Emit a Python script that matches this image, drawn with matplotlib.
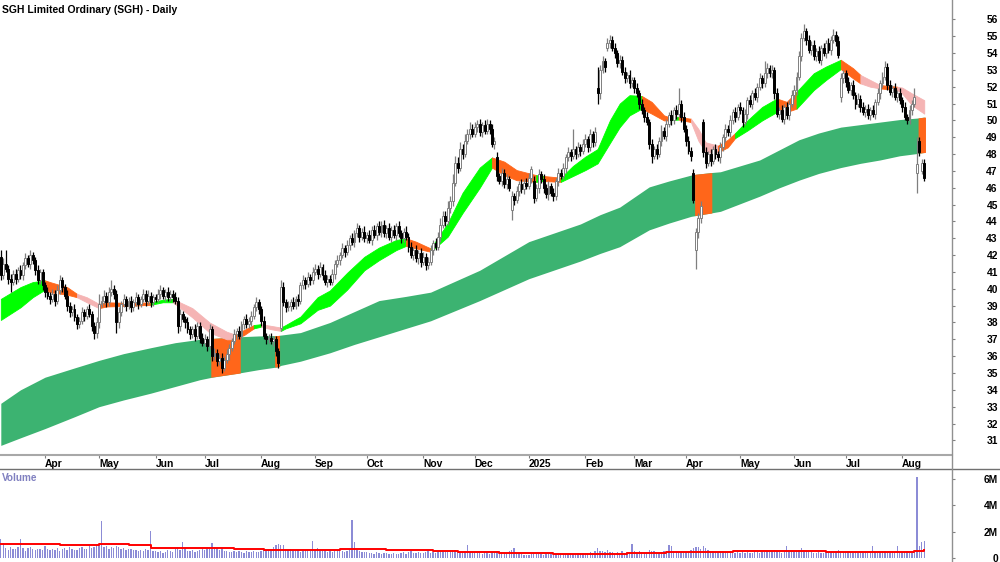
import matplotlib
matplotlib.use("Agg")
import matplotlib.pyplot as plt
from matplotlib.lines import Line2D
import numpy as np
import pandas as pd

plt.rcParams["font.family"] = ["Liberation Sans", "DejaVu Sans"]
plt.rcParams["font.weight"] = "bold"

# trading days on the chart
dates = pd.bdate_range("2024-03-06", "2025-08-14")

# daily closes, one line per month
closes = [
    40.8, 41.5, 41.2, 40.6, 40.4, 40.9, 40.6, 41.1, 40.8, 41.4, 41.8, 41.5, 42.0, 41.7, 41.1, 40.5, 41.0, 40.2,
    39.8, 39.6, 39.4, 39.7, 39.3, 39.9, 40.5, 40.1, 39.6, 39.0, 38.6, 38.8, 38.3, 37.9, 38.1, 38.6, 38.4, 38.8, 38.5, 37.8, 37.4, 38.0,
    39.1, 39.3, 39.6, 39.2, 39.8, 40.0, 39.7, 38.0, 38.6, 39.1, 39.4, 39.0, 39.3, 38.9, 39.2, 39.5, 39.1, 39.4, 39.7, 39.3, 39.6, 39.2, 39.5,
    39.4, 39.7, 39.9, 39.6, 39.8, 39.5, 39.7, 39.5, 39.3, 37.8, 38.5, 38.2, 38.0, 37.6, 37.3, 37.6, 37.2, 37.8, 37.1, 36.8,
    37.0, 36.6, 37.6, 36.0, 36.2, 35.7, 35.9, 35.3, 35.8, 36.1, 36.5, 36.9, 37.3, 37.5, 37.2, 37.9, 38.2, 37.9, 38.1, 38.4, 38.9, 39.2, 38.8,
    38.1, 37.2, 37.0, 37.1, 36.9, 37.0, 36.3, 35.6, 40.1, 39.2, 38.9, 39.0, 39.2, 39.0, 39.4, 39.3, 40.2, 40.5, 40.3, 40.7, 40.5, 41.0,
    41.2, 40.9, 41.3, 40.8, 40.4, 40.6, 40.4, 40.9, 41.5, 41.7, 42.0, 42.4, 42.2, 42.6, 43.0, 42.8, 43.3, 43.6, 43.1, 43.4, 43.0,
    43.2, 42.9, 43.5, 43.2, 43.7, 43.4, 43.8, 43.3, 43.6, 43.1, 43.5, 43.2, 43.7, 43.3, 43.0, 43.4, 43.1, 42.5, 42.0, 42.3, 41.8, 42.1, 41.6,
    41.9, 41.4, 41.6, 42.3, 42.7, 42.5, 43.1, 43.8, 44.3, 44.0, 44.8, 45.2, 46.3, 47.5, 47.2, 48.3, 48.0, 48.8, 49.2, 49.5, 49.2,
    49.6, 49.8, 49.3, 49.7, 49.4, 49.8, 49.5, 48.6, 48.8, 46.7, 46.4, 46.9, 46.2, 46.5, 46.0, 45.5, 45.3, 45.8, 46.2, 45.9, 46.3, 46.1,
    46.6, 47.1, 45.4, 46.0, 46.8, 46.5, 46.0, 45.6, 46.1, 45.7, 45.5, 46.4, 46.9, 46.7, 47.2, 47.8, 48.1, 47.9, 48.3, 48.0, 48.4, 48.2, 48.6,
    48.9, 48.4, 49.2, 48.7, 49.3, 51.6, 53.0, 53.5, 53.2, 54.6, 54.8, 54.3, 54.0, 53.4, 53.6, 52.9, 52.5, 52.7, 52.2, 52.4,
    51.9, 51.6, 51.0, 50.6, 50.2, 49.9, 48.6, 47.9, 48.3, 48.0, 48.8, 49.4, 49.1, 49.8, 50.3, 50.0, 50.6, 50.4, 51.0, 50.2, 49.5,
    48.8, 48.2, 47.9, 45.3, 43.4, 44.2, 44.9, 48.1, 47.5, 48.0, 47.6, 48.3, 48.0, 47.8, 48.4, 49.0, 49.5, 49.3, 50.0, 50.5, 50.2, 50.8,
    50.6, 49.9, 50.4, 51.2, 51.0, 51.6, 51.4, 52.0, 52.5, 52.2, 52.8, 53.1, 52.8, 53.0, 51.6, 50.4, 50.6, 50.1, 50.8, 50.3, 51.0, 51.5,
    51.8, 52.6, 53.8, 54.9, 55.3, 54.8, 54.2, 54.5, 53.8, 54.1, 53.6, 54.3, 54.0, 54.6, 54.2, 54.8, 55.1, 54.7, 53.9, 52.5, 52.8,
    52.3, 51.8, 52.1, 51.5, 51.0, 51.3, 50.8, 50.5, 50.7, 50.3, 50.6, 50.4, 51.1, 51.6, 52.2, 52.6, 53.2, 52.1, 51.7, 51.9, 51.4, 51.6, 51.2,
    50.8, 50.2, 50.0, 50.6, 51.0, 51.4, 47.4, 48.1, 47.5, 46.6,
]

# days that did not open at the previous close
gap_opens = {0: 41.9, 114: 37.7, 202: 47.8, 208: 44.7, 217: 46.4, 243: 51.9, 247: 54.3,
             282: 46.9, 283: 42.3, 286: 49.9, 342: 51.4, 373: 46.9, 374: 48.8, 375: 47.0}

# shadow above / below the body, in tenths of a dollar
wick_up = [
    4, 3, 8, 2, 3, 2, 3, 2, 3, 2, 3, 2, 3, 2, 2, 3, 2, 2,
    2, 3, 2, 3, 2, 3, 3, 2, 2, 3, 2, 2, 3, 2, 2, 3, 2, 2, 3, 2, 2, 3,
    6, 3, 3, 2, 3, 5, 2, 2, 3, 2, 3, 2, 2, 3, 2, 3, 2, 2, 3, 2, 3, 2, 2,
    2, 3, 3, 2, 2, 3, 2, 2, 3, 2, 3, 2, 2, 3, 2, 2, 3, 2, 2, 3,
    3, 2, 3, 2, 3, 2, 2, 3, 2, 3, 2, 2, 3, 2, 3, 2, 2, 3, 2, 3, 2, 3, 2,
    2, 3, 2, 2, 3, 2, 2, 2, 4, 3, 2, 3, 2, 3, 2, 3, 2, 3, 2, 3, 2, 3,
    3, 2, 3, 2, 3, 2, 2, 3, 2, 3, 2, 3, 2, 3, 2, 3, 2, 3, 2, 2, 3,
    2, 3, 2, 3, 2, 3, 2, 3, 2, 3, 2, 3, 2, 3, 2, 2, 3, 2, 3, 2, 3, 2, 3,
    3, 2, 3, 3, 2, 3, 3, 4, 3, 3, 4, 3, 5, 4, 3, 4, 3, 4, 3, 4, 3,
    3, 2, 3, 2, 3, 3, 2, 3, 2, 3, 2, 3, 2, 3, 2, 3, 2, 3, 2, 3, 2, 3,
    3, 2, 3, 2, 3, 2, 3, 2, 3, 2, 3, 2, 3, 2, 3, 2, 3, 2, 12, 2, 3, 2, 3,
    3, 2, 3, 2, 3, 13, 3, 3, 2, 3, 3, 2, 3, 2, 3, 2, 3, 2, 3, 2,
    2, 3, 2, 3, 2, 3, 2, 3, 2, 3, 2, 3, 2, 3, 2, 3, 2, 3, 9, 2, 3,
    2, 3, 2, 2, 2, 3, 3, 2, 3, 2, 3, 2, 3, 2, 3, 2, 3, 2, 3, 2, 3, 2,
    3, 2, 3, 2, 3, 2, 3, 2, 3, 2, 7, 3, 2, 3, 2, 3, 2, 3, 2, 3, 2, 3,
    3, 3, 3, 3, 4, 2, 3, 2, 3, 2, 3, 2, 3, 2, 3, 2, 3, 2, 3, 3, 2,
    2, 3, 2, 3, 2, 3, 2, 3, 2, 3, 2, 3, 2, 3, 2, 3, 3, 2, 3, 2, 3, 2, 3,
    2, 3, 2, 3, 2, 5, 16, 2, 2, 2,
]
wick_dn = [
    3, 2, 2, 3, 6, 2, 3, 2, 2, 3, 2, 2, 3, 2, 3, 2, 2, 3,
    3, 2, 3, 2, 3, 2, 2, 3, 2, 3, 3, 2, 2, 3, 2, 2, 3, 2, 2, 3, 4, 3,
    3, 2, 2, 3, 2, 2, 3, 6, 3, 2, 2, 3, 2, 3, 2, 2, 3, 2, 2, 3, 2, 3, 2,
    2, 2, 3, 2, 3, 2, 2, 3, 2, 4, 3, 2, 3, 2, 3, 2, 3, 2, 3, 2,
    2, 3, 2, 3, 2, 3, 2, 3, 2, 2, 3, 2, 2, 3, 2, 2, 3, 2, 2, 3, 2, 2, 3,
    3, 2, 3, 2, 2, 3, 3, 3, 2, 2, 3, 2, 3, 2, 2, 3, 2, 2, 3, 2, 3, 2,
    2, 3, 2, 3, 2, 3, 2, 2, 3, 2, 3, 2, 3, 2, 3, 2, 3, 2, 3, 2, 2,
    3, 2, 3, 2, 3, 2, 3, 2, 3, 2, 3, 2, 3, 2, 3, 2, 2, 3, 2, 3, 2, 3, 3,
    2, 3, 2, 2, 3, 2, 2, 3, 2, 3, 2, 3, 3, 2, 3, 2, 3, 2, 2, 3, 2,
    2, 3, 2, 3, 2, 2, 3, 2, 3, 3, 2, 3, 2, 3, 2, 6, 3, 2, 3, 2, 3, 2,
    2, 3, 3, 2, 3, 2, 3, 2, 3, 2, 3, 2, 3, 2, 2, 3, 2, 3, 2, 3, 2, 3, 2,
    2, 3, 2, 3, 2, 6, 3, 2, 3, 2, 3, 2, 3, 2, 3, 2, 3, 2, 3, 2,
    3, 2, 3, 2, 3, 2, 3, 4, 2, 3, 2, 3, 2, 3, 2, 3, 2, 3, 2, 3, 2,
    3, 2, 3, 2, 11, 4, 3, 3, 3, 2, 3, 2, 3, 2, 3, 2, 3, 2, 3, 2, 3, 2,
    2, 3, 2, 3, 2, 3, 2, 3, 2, 3, 2, 3, 2, 3, 3, 2, 3, 2, 3, 2, 3, 2,
    2, 3, 2, 3, 2, 3, 2, 3, 2, 3, 2, 3, 2, 3, 2, 3, 2, 3, 2, 3, 3,
    3, 2, 3, 2, 3, 2, 3, 2, 3, 2, 3, 2, 3, 2, 3, 2, 2, 3, 2, 3, 2, 3, 2,
    3, 2, 2, 2, 3, 2, 12, 2, 2, 2,
]

# daily volume, millions of shares
volume_m = [
    1.43, 1.1, 0.75, 0.6, 0.85, 0.7, 0.65, 0.8, 1.43, 0.75, 0.5, 0.72, 0.8, 0.65, 0.6, 0.68, 0.7, 0.62,
    0.9, 0.65, 0.58, 0.7, 0.62, 0.78, 0.55, 0.66, 0.72, 0.6, 0.85, 0.7, 0.58, 0.62, 0.75, 0.8, 0.66, 0.7, 0.9, 0.76, 0.83, 0.88,
    0.95, 2.8, 0.85, 0.9, 0.7, 0.82, 0.76, 0.92, 0.8, 0.68, 0.72, 0.6, 0.66, 0.7, 0.58, 0.62, 0.55, 0.6, 0.52, 0.66, 0.58, 2.04, 0.55,
    0.5, 0.45, 0.55, 0.4, 0.48, 0.62, 0.52, 0.45, 0.7, 0.8, 0.6, 1.23, 0.75, 0.55, 0.5, 0.6, 0.45, 0.52, 0.58, 0.66,
    0.6, 0.7, 0.65, 1.13, 0.8, 0.72, 0.6, 0.75, 0.55, 0.5, 0.48, 0.45, 0.52, 0.42, 0.5, 0.46, 0.4, 0.55, 0.48, 0.44, 0.5, 0.42, 0.46,
    0.55, 0.6, 0.5, 0.62, 0.7, 0.85, 1.0, 1.05, 1.02, 0.95, 0.7, 0.62, 0.66, 0.55, 0.5, 0.58, 0.48, 0.52, 0.6, 0.55, 0.5, 1.3,
    0.6, 0.75, 0.55, 0.5, 0.62, 0.48, 0.52, 0.45, 0.5, 0.58, 0.6, 0.55, 0.45, 0.5, 0.7, 2.87, 1.2, 0.6, 0.5, 0.45, 0.48,
    0.42, 0.35, 0.4, 0.3, 0.45, 0.38, 0.32, 0.36, 0.4, 0.3, 0.34, 0.38, 0.28, 0.33, 0.36, 0.42, 0.3, 0.45, 0.5, 0.4, 0.38, 0.44, 0.36,
    0.4, 0.45, 0.5, 0.38, 0.42, 0.36, 0.44, 0.5, 0.55, 0.42, 0.48, 0.52, 0.6, 0.58, 0.5, 0.46, 0.44, 0.5, 0.98, 0.45, 0.42,
    0.38, 0.35, 0.42, 0.33, 0.4, 0.36, 0.3, 0.45, 0.4, 0.55, 0.5, 0.42, 0.38, 0.36, 0.5, 0.62, 0.75, 0.4, 0.35, 0.3, 0.26, 0.22,
    0.25, 0.3, 0.38, 0.32, 0.28, 0.3, 0.26, 0.33, 0.28, 0.3, 0.25, 0.32, 0.28, 0.35, 0.3, 0.33, 0.28, 0.36, 0.3, 0.32, 0.4, 0.38, 0.35,
    0.35, 0.4, 0.45, 0.38, 0.5, 0.75, 0.55, 0.5, 0.45, 0.6, 0.48, 0.42, 0.38, 0.45, 0.4, 0.5, 0.36, 0.42, 0.48, 1.05,
    0.5, 0.45, 0.55, 0.42, 0.4, 0.48, 0.6, 0.55, 0.5, 0.45, 0.4, 0.46, 0.5, 0.55, 0.98, 0.9, 0.5, 0.45, 0.42, 0.48, 0.4,
    0.45, 0.55, 0.6, 0.75, 0.85, 0.8, 0.7, 0.9, 0.72, 0.6, 0.55, 0.5, 0.48, 0.45, 0.52, 0.5, 0.46, 0.44, 0.5, 0.42, 0.4, 0.45,
    0.4, 0.42, 0.36, 0.45, 0.4, 0.38, 0.5, 0.44, 0.4, 0.46, 0.42, 0.5, 0.48, 0.55, 0.62, 0.5, 0.45, 0.4, 0.55, 0.9, 0.48, 0.5,
    0.5, 0.55, 0.6, 0.75, 0.58, 0.5, 0.45, 0.42, 0.4, 0.38, 0.44, 0.4, 0.36, 0.42, 0.45, 0.48, 0.4, 0.5, 0.6, 0.55, 0.48,
    0.45, 0.5, 0.42, 0.4, 0.45, 0.38, 0.4, 0.36, 0.42, 0.4, 0.45, 0.9, 0.42, 0.4, 0.45, 0.5, 0.55, 0.45, 0.4, 0.42, 0.38, 0.9, 0.45,
    0.42, 0.45, 0.5, 0.4, 0.38, 0.5, 6.1, 0.9, 1.22, 1.25,
]

# volume average line (step changes), millions
vol_avg_day = [0, 24, 40, 52, 61, 95, 107, 138, 157, 176, 186, 203, 225, 255, 271, 298, 336, 372, 374, 376]
vol_avg = [1.03, 1.0, 1.07, 1.0, 0.75, 0.7, 0.6, 0.65, 0.6, 0.55, 0.48, 0.36, 0.31, 0.35, 0.43, 0.52, 0.44, 0.5, 0.56, 0.58]

# long-term average band, read at these days
long_day = [0, 8, 18, 30, 40, 50, 61, 71, 81, 86, 97, 105, 112, 113, 114, 122, 134, 144, 154, 165,
            175, 185, 195, 205, 215, 226, 236, 244, 252, 258, 264, 272, 281, 283, 289, 293, 301, 309, 317, 325,
            333, 342, 350, 358, 366, 374, 376]
long_top = [33.2, 34.0, 34.75, 35.3, 35.75, 36.15, 36.5, 36.8, 37.0, 37.05, 37.15, 37.2, 37.22, 37.23, 37.25, 37.4, 38.0, 38.65, 39.3, 39.55,
            39.8, 40.45, 41.1, 41.95, 42.8, 43.35, 43.85, 44.4, 44.85, 45.45, 46.05, 46.4, 46.75, 46.8, 46.9, 46.95, 47.3, 47.65, 48.25, 48.85,
            49.25, 49.6, 49.75, 49.9, 50.05, 50.15, 50.2]
long_bot = [30.7, 31.15, 31.7, 32.4, 33.0, 33.4, 33.8, 34.2, 34.6, 34.75, 35.0, 35.2, 35.35, 35.38, 35.45, 35.7, 36.2, 36.7, 37.15, 37.65,
            38.1, 38.7, 39.3, 39.95, 40.6, 41.15, 41.65, 42.1, 42.5, 43.0, 43.5, 43.9, 44.3, 44.35, 44.5, 44.6, 45.05, 45.5, 46.0, 46.45,
            46.85, 47.2, 47.45, 47.65, 47.9, 48.05, 48.1]
# days where the long band turns bearish
long_bear_spans = [(86, 97), (112, 113), (283, 289), (374, 376)]

# short-term average band, read at these days
short_day = [0, 8, 13, 18, 20, 27, 31, 35, 40, 43, 54, 61, 66, 70, 78, 85, 92, 95, 99, 103,
             106, 110, 114, 116, 122, 129, 134, 141, 148, 154, 161, 165, 169, 175, 182, 188, 195, 200, 205, 210,
             218, 221, 228, 233, 238, 243, 248, 252, 256, 261, 265, 270, 272, 276, 281, 284, 287, 292, 296, 299,
             304, 310, 316, 320, 324, 331, 336, 342, 347, 350, 354, 358, 365, 367, 371, 376]
short_top = [39.4, 40.1, 40.4, 40.5, 40.4, 40.1, 39.7, 39.5, 39.1, 39.2, 39.15, 39.2, 39.35, 39.4, 38.85, 38.0, 37.45, 37.3, 37.55, 37.85,
             37.9, 37.8, 37.7, 37.85, 38.35, 39.5, 39.9, 40.95, 41.9, 42.45, 42.9, 43.0, 42.8, 42.4, 43.9, 45.7, 47.2, 47.8, 47.55, 47.05,
             46.75, 46.7, 46.6, 47.3, 47.85, 48.3, 50.0, 51.0, 51.5, 51.45, 51.1, 50.3, 50.2, 50.2, 50.1, 49.5, 48.7, 48.5, 48.85, 49.25,
             50.0, 50.8, 51.3, 51.1, 51.7, 52.8, 53.2, 53.6, 53.1, 52.7, 52.4, 52.1, 52.0, 51.95, 51.6, 51.2]
short_bot = [38.15, 38.9, 39.5, 39.95, 39.8, 39.65, 39.5, 39.2, 38.85, 38.95, 39.0, 39.05, 39.2, 39.2, 38.3, 37.4, 37.0, 37.0, 37.25, 37.65,
             37.75, 37.6, 37.5, 37.65, 37.95, 38.75, 39.0, 39.95, 41.1, 41.7, 42.3, 42.55, 42.4, 42.2, 43.1, 44.5, 46.0, 47.2, 46.75, 46.45,
             46.35, 46.4, 46.35, 46.7, 47.05, 47.45, 48.65, 49.6, 50.3, 50.7, 50.4, 50.0, 50.0, 50.05, 49.9, 48.8, 48.1, 48.1, 48.4, 48.95,
             49.4, 50.0, 50.5, 50.5, 50.7, 51.8, 52.4, 53.05, 52.5, 52.2, 52.0, 51.9, 51.8, 51.6, 50.9, 50.4]
# state of the short band between two days
short_spans = [(0, 18, "rise"), (18, 31, "turn"), (31, 40, "fall"), (40, 61, "turn"), (61, 70, "rise"),
               (70, 95, "fall"), (95, 103, "turn"), (103, 106, "rise"), (106, 114, "fall"), (114, 165, "rise"),
               (165, 175, "turn"), (175, 200, "rise"), (200, 218, "turn"), (218, 221, "rise"), (221, 228, "turn"),
               (228, 261, "rise"), (261, 272, "turn"), (272, 276, "rise"), (276, 281, "turn"), (281, 292, "fall"),
               (292, 299, "turn"), (299, 316, "rise"), (316, 324, "turn"), (324, 342, "rise"), (342, 350, "turn"),
               (350, 358, "fall"), (358, 365, "turn"), (365, 376, "fall")]

band_colors = {"rise": "#00ff00", "turn": "#ff661a", "fall": "#f5b4b4"}

# ---- build candles
c = np.array(closes)
o = np.r_[c[0], c[:-1]]
for k, v in gap_opens.items():
    o[k] = v
hi = np.maximum(o, c) + np.array(wick_up) / 10
lo = np.minimum(o, c) - np.array(wick_dn) / 10
x = np.arange(len(dates))
up = c >= o
body_lo = np.minimum(o, c)
body_h = np.maximum(np.abs(c - o), 0.06)

fig = plt.figure(figsize=(10, 5.62), dpi=100)
ax = fig.add_axes([0, 107 / 562, 0.952, 455 / 562])
axv = fig.add_axes([0, 0, 0.952, 93 / 562])

# long band
ld = np.array(long_day, dtype=float)
lt = np.array(long_top)
lb = np.array(long_bot)
ax.fill_between(ld, lt, lb, color="#3cb371", lw=0, zorder=1)
for s, e in long_bear_spans:
    sel = (ld >= s) & (ld <= e)
    xs = ld[sel].copy()
    xs[0] -= 0.5
    xs[-1] += 0.5
    ax.fill_between(xs, lt[sel], lb[sel], color="#ff661a", lw=0, zorder=2)

# short band
sd = np.array(short_day, dtype=float)
st = np.array(short_top)
sb = np.array(short_bot)
for s, e, state in short_spans:
    sel = (sd >= s) & (sd <= e)
    ax.fill_between(sd[sel], st[sel], sb[sel], facecolor=band_colors[state],
                    edgecolor=band_colors[state], lw=0.6, zorder=2)

# candles
ax.vlines(x[up], lo[up], hi[up], color="#7f7f7f", lw=0.9, zorder=3)
ax.vlines(x[~up], lo[~up], hi[~up], color="black", lw=0.9, zorder=3)
ax.bar(x[up], body_h[up], bottom=body_lo[up], width=0.78, facecolor="white",
       edgecolor="#7f7f7f", lw=0.7, zorder=4)
ax.bar(x[~up], body_h[~up], bottom=body_lo[~up], width=0.78, facecolor="black",
       edgecolor="black", lw=0.7, zorder=4)

xmin, xmax = -0.33, 387.3
ax.set_xlim(xmin, xmax)
ax.set_ylim(30.13, 57.15)

for sp in ["left", "top", "right"]:
    ax.spines[sp].set_visible(False)
ax.spines["bottom"].set_color("#a8a8a8")
ax.spines["bottom"].set_linewidth(1.5)

month_starts = [i for i in range(1, len(dates)) if dates[i].month != dates[i - 1].month]
month_labels = ["2025" if dates[i].month == 1 else dates[i].strftime("%b") for i in month_starts]
ax.set_xticks(month_starts)
ax.set_xticklabels(month_labels, ha="left")
ax.tick_params(axis="x", direction="out", length=2.2, width=0.8, color="#808080",
               pad=1.0, labelsize=7.4)

ax.yaxis.tick_right()
ax.set_yticks(range(31, 57))
ax.tick_params(axis="y", direction="out", length=2, width=0.8, color="#808080",
               pad=31, labelsize=7.4)
plt.setp(ax.get_yticklabels(), ha="right")

# volume panel
axv.bar(x, volume_m, width=0.55, color="#8c8cd6", zorder=2)
axv.step(vol_avg_day, vol_avg, where="post", color="#ff0000", lw=1.4, zorder=3)
axv.set_xlim(xmin, xmax)
axv.set_ylim(-0.3, 6.72)
for sp in axv.spines.values():
    sp.set_visible(False)
axv.set_xticks([])
axv.yaxis.tick_right()
axv.set_yticks([0, 2, 4, 6])
axv.set_yticklabels(["0", "2M", "4M", "6M"])
axv.tick_params(axis="y", direction="out", length=2, width=0.8, color="#808080",
                pad=31, labelsize=7.4)
plt.setp(axv.get_yticklabels(), ha="right")

# frame lines
fig.add_artist(Line2D([0, 1], [1 - 469 / 562] * 2, transform=fig.transFigure,
                      color="#707070", lw=1))
fig.add_artist(Line2D([0.952, 0.952], [0, 1], transform=fig.transFigure,
                      color="#909090", lw=1))

fig.text(0.002, 1 - 10 / 562, "SGH Limited Ordinary (SGH) - Daily", fontsize=7.5,
         fontweight="bold", va="center", ha="left")
fig.text(0.002, 1 - 478 / 562, "Volume", fontsize=7.2, fontweight="bold",
         color="#8080c0", va="center", ha="left")

fig.savefig("out.png", dpi=100)
